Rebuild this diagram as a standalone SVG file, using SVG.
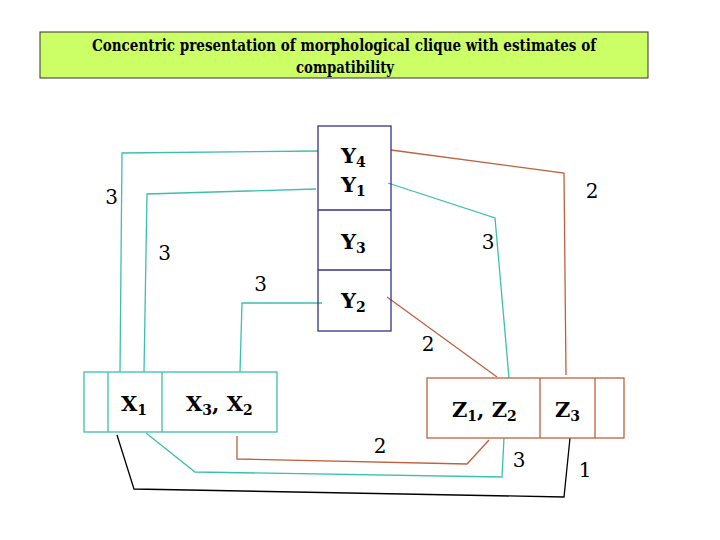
<svg xmlns="http://www.w3.org/2000/svg" width="720" height="540" viewBox="0 0 720 540" font-family="'DejaVu Serif', serif">
<style>
.lbl{font-size:20px;text-anchor:middle}
.nd{font-size:21px;font-weight:bold}
.sub{font-size:14px}
.cy{fill:none;stroke:#3dbfae;stroke-width:1.3}
.rd{fill:none;stroke:#c0603e;stroke-width:1.3}
.bk{fill:none;stroke:#000;stroke-width:1.3}
</style>
<rect width="720" height="540" fill="#fff"/>
<g id="title">
<rect x="40" y="32" width="608" height="46" fill="#ccff66" stroke="#333" stroke-width="1"/>
<text x="92" y="51" font-size="16.5" font-weight="bold" textLength="504" lengthAdjust="spacingAndGlyphs">Concentric presentation of morphological clique with estimates of</text>
<text x="296" y="73" font-size="16.5" font-weight="bold" textLength="98" lengthAdjust="spacingAndGlyphs">compatibility</text>
</g>
<g id="connectors">
<polyline class="cy" points="318,151 122,153 120,372"/>
<polyline class="cy" points="316,189 147,194 144,372"/>
<polyline class="cy" points="322,303 242,303 240,372"/>
<polyline class="rd" points="391,150 564,173 566,375"/>
<polyline class="cy" points="388,183 495,218 509,378"/>
<polyline class="rd" points="387,297 497,377"/>
<polyline class="rd" points="237,436 237,459 467,464 489,440"/>
<polyline class="cy" points="146,433 195,472 502,477 504,438"/>
<polyline class="bk" points="117,435 134,489 564,497 570,438"/>
</g>
<g id="labels">
<text class="lbl" x="111.5" y="204">3</text>
<text class="lbl" x="164.5" y="260">3</text>
<text class="lbl" x="260.5" y="291">3</text>
<text class="lbl" x="592" y="198">2</text>
<text class="lbl" x="488" y="249">3</text>
<text class="lbl" x="428" y="351">2</text>
<text class="lbl" x="380" y="453">2</text>
<text class="lbl" x="519" y="467">3</text>
<text class="lbl" x="585" y="477">1</text>
</g>
<g id="nodeY">
<rect x="318" y="126" width="73" height="205" fill="none" stroke="#333388" stroke-width="1.3"/>
<line x1="318" y1="210" x2="391" y2="210" stroke="#333388" stroke-width="1.3"/>
<line x1="318" y1="270" x2="391" y2="270" stroke="#333388" stroke-width="1.3"/>
<text class="nd" x="341" y="163">Y<tspan class="sub" dy="4">4</tspan></text>
<text class="nd" x="341" y="192">Y<tspan class="sub" dy="4">1</tspan></text>
<text class="nd" x="341" y="249">Y<tspan class="sub" dy="4">3</tspan></text>
<text class="nd" x="341" y="308">Y<tspan class="sub" dy="4">2</tspan></text>
</g>
<g id="nodeX">
<rect x="84" y="372" width="193" height="60" fill="none" stroke="#3dbfae" stroke-width="1.3"/>
<line x1="108" y1="372" x2="108" y2="432" stroke="#3dbfae" stroke-width="1.3"/>
<line x1="162" y1="372" x2="162" y2="432" stroke="#3dbfae" stroke-width="1.3"/>
<text class="nd" x="121" y="411">X<tspan class="sub" dy="4">1</tspan></text>
<text class="nd" x="186" y="411">X<tspan class="sub" dy="4">3</tspan><tspan dy="-4">, X</tspan><tspan class="sub" dy="4">2</tspan></text>
</g>
<g id="nodeZ">
<rect x="427" y="378" width="197" height="60" fill="none" stroke="#c0603e" stroke-width="1.3"/>
<line x1="540" y1="378" x2="540" y2="438" stroke="#c0603e" stroke-width="1.3"/>
<line x1="595" y1="378" x2="595" y2="438" stroke="#c0603e" stroke-width="1.3"/>
<text class="nd" x="452" y="417">Z<tspan class="sub" dy="4">1</tspan><tspan dy="-4">, Z</tspan><tspan class="sub" dy="4">2</tspan></text>
<text class="nd" x="555" y="417">Z<tspan class="sub" dy="4">3</tspan></text>
</g>
</svg>
